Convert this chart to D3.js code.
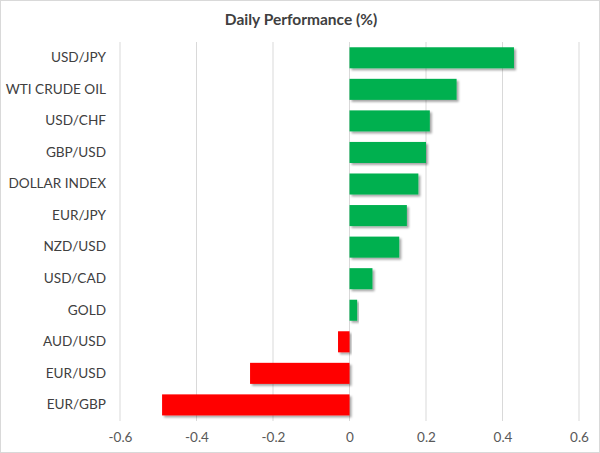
<!DOCTYPE html>
<html>
<head>
<meta charset="utf-8">
<script src="https://cdn.jsdelivr.net/npm/d3@7"></script>
<style>
  body { margin: 0; background: #fff; }
  svg { display: block; }
</style>
</head>
<body>
<div id="chart"></div>
<script>
const width = 600;
const height = 453;
const margin = { top: 42, right: 21, bottom: 32, left: 120 };

// Daily performance, top to bottom
const instruments = ["USD/JPY", "WTI CRUDE OIL", "USD/CHF", "GBP/USD", "DOLLAR INDEX", "EUR/JPY",
  "NZD/USD", "USD/CAD", "GOLD", "AUD/USD", "EUR/USD", "EUR/GBP"];
const changes = [0.43, 0.28, 0.21, 0.20, 0.18, 0.15, 0.13, 0.06, 0.02, -0.03, -0.26, -0.49];
const tickValues = [-0.6, -0.4, -0.2, 0, 0.2, 0.4, 0.6];

const data = instruments.map((name, i) => ({ name, value: changes[i] }));

const svg = d3.select("#chart").append("svg")
  .attr("width", width)
  .attr("height", height);

// light frame around the chart area
svg.append("rect")
  .attr("x", 0.5).attr("y", 0.5)
  .attr("width", width - 1).attr("height", height - 1)
  .attr("fill", "#fff")
  .attr("stroke", "#d9d9d9");

const defs = svg.append("defs");
const shadow = defs.append("filter")
  .attr("id", "shadow")
  .attr("x", "-10%").attr("y", "-20%")
  .attr("width", "130%").attr("height", "160%");
shadow.append("feDropShadow")
  .attr("dx", 2).attr("dy", 2)
  .attr("stdDeviation", 1.2)
  .attr("flood-color", "#000")
  .attr("flood-opacity", 0.35);

const x = d3.scaleLinear()
  .domain([-0.6, 0.6])
  .range([margin.left, width - margin.right]);

const y = d3.scaleBand()
  .domain(instruments)
  .range([margin.top, height - margin.bottom - 0.3])
  .paddingInner(0.333)
  .paddingOuter(0.167);

svg.append("text")
  .attr("x", 301)
  .attr("y", 25)
  .attr("text-anchor", "middle")
  .style("font-family", "Lato, 'Open Sans', sans-serif")
  .style("font-size", "15.5px")
  .style("font-weight", "bold")
  .style("fill", "#404040")
  .text("Daily Performance (%)");

// vertical gridlines
svg.append("g")
  .selectAll("line")
  .data(tickValues)
  .join("line")
    .attr("x1", d => x(d)).attr("x2", d => x(d))
    .attr("y1", margin.top)
    .attr("y2", height - margin.bottom)
    .attr("stroke", "#d9d9d9")
    .attr("stroke-width", 1);

// bottom tick labels, no axis line (plain hyphen for negatives)
const xAxis = svg.append("g")
  .attr("transform", `translate(0, ${height - margin.bottom})`)
  .call(d3.axisBottom(x).tickValues(tickValues).tickSize(0).tickPadding(11).tickFormat(d => String(d)));
xAxis.select(".domain").remove();
xAxis.selectAll("text")
  .style("font-family", "Lato, 'Open Sans', sans-serif")
  .style("font-size", "13.5px")
  .style("fill", "#595959");

// category labels
const yAxis = svg.append("g")
  .attr("transform", `translate(${margin.left - 14}, 0)`)
  .call(d3.axisLeft(y).tickSize(0).tickPadding(0));
yAxis.select(".domain").remove();
yAxis.selectAll("text")
  .style("font-family", "Lato, 'Open Sans', sans-serif")
  .style("font-size", "13.6px")
  .style("fill", "#404040");

svg.append("g")
  .selectAll("rect")
  .data(data)
  .join("rect")
    .attr("x", d => x(Math.min(0, d.value)))
    .attr("y", d => y(d.name))
    .attr("width", d => Math.abs(x(d.value) - x(0)))
    .attr("height", y.bandwidth())
    .attr("fill", d => d.value >= 0 ? "#00b050" : "#ff0000")
    .attr("filter", "url(#shadow)");
</script>
</body>
</html>
